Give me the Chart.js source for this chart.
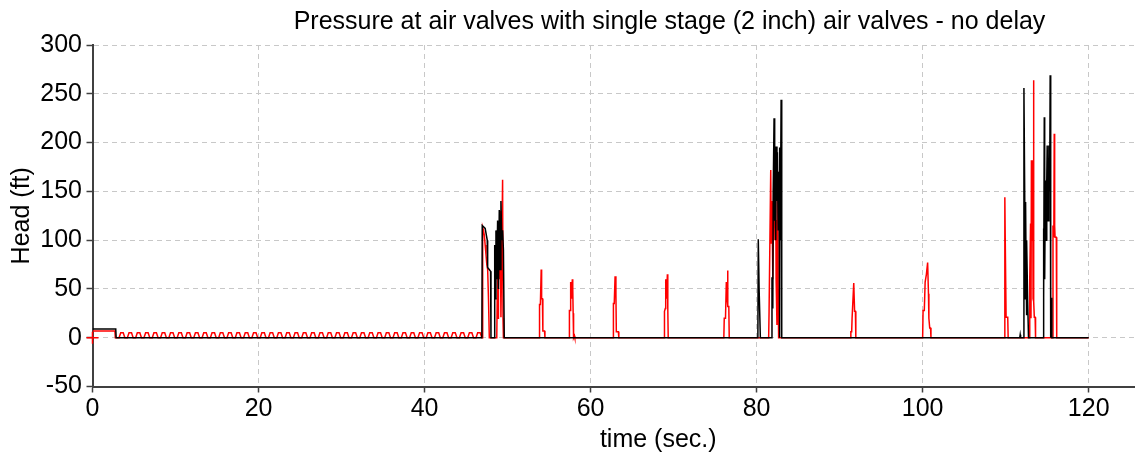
<!DOCTYPE html>
<html><head><meta charset="utf-8">
<script src="https://cdn.jsdelivr.net/npm/chart.js@4.4.1/dist/chart.umd.min.js"></script>
<style>
html,body{margin:0;padding:0;background:#fff;overflow:hidden;}
#wrap{width:1135px;height:459px;overflow:hidden;position:relative;}
#box{position:absolute;left:0;top:0;width:1339px;height:459px;}
</style></head><body>
<div id="wrap"><div id="box"><canvas id="c" width="1339" height="459"></canvas></div></div>
<script>
const chartTitle = 'Pressure at air valves with single stage (2 inch) air valves - no delay';
const xTitle = 'time (sec.)';
const yTitle = 'Head (ft)';
const xTicks = [0, 20, 40, 60, 80, 100, 120];
const yTicks = [-50, 0, 50, 100, 150, 200, 250, 300];
const startMarker = [[0, 0]];

// black series: time (s), head (ft)
const blackPoints = [
  [0,9],[2.8,9],[2.85,0],[46.9,0],[46.95,115],[47.3,112],[47.55,100],[47.6,72],[47.95,68],[48.0,0],
  [48.4,0],[48.45,95],[48.55,40],[48.6,110],[48.7,60],[48.8,120],[48.9,50],[49.0,131],[49.1,70],[49.2,140],[49.3,100],[49.4,110],[49.5,90],[49.6,0],
  [80.15,0],[80.2,101],[80.3,50],[80.4,50],[80.45,0],
  [81.8,0],[81.85,62],[81.95,30],[82.0,150],[82.1,225],[82.15,120],[82.2,183],[82.3,100],[82.35,196],[82.45,140],[82.5,190],[82.6,110],[82.7,170],[82.75,0],[82.8,195],[82.85,100],[82.95,244],[83.0,160],[83.05,0],
  [111.7,0],[111.75,3],[111.8,0],
  [112.15,0],[112.2,256],[112.3,139],[112.35,40],[112.4,139],[112.45,83],[112.5,23],[112.55,100],[112.65,38],[112.75,0],
  [114.5,0],[114.55,112],[114.6,40],[114.65,226],[114.7,60],[114.75,120],[114.85,161],[114.9,100],[114.95,161],[115.0,197],[115.1,120],[115.2,197],[115.3,150],[115.36,269],[115.4,52],[115.45,0],[115.5,41],[115.56,0],
  [120,0]
];

// red series: time (s), head (ft)
const redPoints = [
  [0,7],[2.7,7],[2.75,0],
  [3.2,0],[3.4,5],[3.7,5],[3.9,0],
  [4.2,0],[4.4,5],[4.7,5],[4.9,0],
  [5.2,0],[5.4,5],[5.7,5],[5.9,0],
  [6.2,0],[6.4,5],[6.7,5],[6.9,0],
  [7.2,0],[7.4,5],[7.7,5],[7.9,0],
  [8.2,0],[8.4,5],[8.7,5],[8.9,0],
  [9.2,0],[9.4,5],[9.7,5],[9.9,0],
  [10.2,0],[10.4,5],[10.7,5],[10.9,0],
  [11.2,0],[11.4,5],[11.7,5],[11.9,0],
  [12.2,0],[12.4,5],[12.7,5],[12.9,0],
  [13.2,0],[13.4,5],[13.7,5],[13.9,0],
  [14.2,0],[14.4,5],[14.7,5],[14.9,0],
  [15.2,0],[15.4,5],[15.7,5],[15.9,0],
  [16.2,0],[16.4,5],[16.7,5],[16.9,0],
  [17.2,0],[17.4,5],[17.7,5],[17.9,0],
  [18.2,0],[18.4,5],[18.7,5],[18.9,0],
  [19.2,0],[19.4,5],[19.7,5],[19.9,0],
  [20.2,0],[20.4,5],[20.7,5],[20.9,0],
  [21.2,0],[21.4,5],[21.7,5],[21.9,0],
  [22.2,0],[22.4,5],[22.7,5],[22.9,0],
  [23.2,0],[23.4,5],[23.7,5],[23.9,0],
  [24.2,0],[24.4,5],[24.7,5],[24.9,0],
  [25.2,0],[25.4,5],[25.7,5],[25.9,0],
  [26.2,0],[26.4,5],[26.7,5],[26.9,0],
  [27.2,0],[27.4,5],[27.7,5],[27.9,0],
  [28.2,0],[28.4,5],[28.7,5],[28.9,0],
  [29.2,0],[29.4,5],[29.7,5],[29.9,0],
  [30.2,0],[30.4,5],[30.7,5],[30.9,0],
  [31.2,0],[31.4,5],[31.7,5],[31.9,0],
  [32.2,0],[32.4,5],[32.7,5],[32.9,0],
  [33.2,0],[33.4,5],[33.7,5],[33.9,0],
  [34.2,0],[34.4,5],[34.7,5],[34.9,0],
  [35.2,0],[35.4,5],[35.7,5],[35.9,0],
  [36.2,0],[36.4,5],[36.7,5],[36.9,0],
  [37.2,0],[37.4,5],[37.7,5],[37.9,0],
  [38.2,0],[38.4,5],[38.7,5],[38.9,0],
  [39.2,0],[39.4,5],[39.7,5],[39.9,0],
  [40.2,0],[40.4,5],[40.7,5],[40.9,0],
  [41.2,0],[41.4,5],[41.7,5],[41.9,0],
  [42.2,0],[42.4,5],[42.7,5],[42.9,0],
  [43.2,0],[43.4,5],[43.7,5],[43.9,0],
  [44.2,0],[44.4,5],[44.7,5],[44.9,0],
  [45.2,0],[45.4,5],[45.7,5],[45.9,0],
  [46.2,0],[46.4,5],[46.7,5],[46.9,0],
  [46.95,0],[47.0,113],[47.1,110],[47.2,105],[47.3,95],[47.4,85],[47.5,75],[47.6,70],[47.7,40],[47.8,0],
  [48.7,0],[48.75,40],[48.8,100],[48.85,20],[48.9,112],[49.0,60],[49.1,130],[49.2,21],[49.3,90],[49.4,162],[49.45,20],[49.5,0],
  [53.8,0],[53.85,34],[53.95,34],[54.05,70],[54.1,40],[54.2,40],[54.25,7],[54.45,7],[54.5,0],
  [57.4,0],[57.45,28],[57.55,28],[57.6,57],[57.7,40],[57.8,60],[57.85,51],[57.9,25],[57.95,0],[58.05,2],[58.1,0],
  [62.7,0],[62.75,35],[62.85,35],[62.95,63],[63.05,45],[63.1,6],[63.35,6],[63.4,0],
  [68.85,0],[68.9,27],[69.0,30],[69.05,60],[69.15,40],[69.25,65],[69.3,30],[69.35,0],
  [76.05,0],[76.1,20],[76.25,20],[76.35,57],[76.45,40],[76.5,69],[76.55,32],[76.65,32],[76.7,0],
  [81.45,0],[81.5,27],[81.6,27],[81.7,172],[81.75,97],[81.85,140],[81.95,60],[82.05,150],[82.15,182],[82.2,100],[82.3,163],[82.35,60],[82.45,13],[82.5,120],[82.55,170],[82.6,50],[82.65,0],
  [91.3,0],[91.35,6],[91.45,6],[91.5,20],[91.6,20],[91.7,56],[91.8,27],[91.9,27],[91.95,0],
  [100.0,0],[100.05,28],[100.2,28],[100.3,57],[100.45,65],[100.6,77],[100.7,45],[100.75,20],[100.85,10],[100.95,10],[101.0,0],
  [109.85,0],[109.9,144],[109.95,100],[110.0,100],[110.05,21],[110.25,21],[110.3,0],
  [112.85,0],[112.9,60],[113.0,117],[113.05,20],[113.1,182],[113.2,100],[113.25,182],[113.3,40],[113.35,264],[113.4,37],[113.45,21],[113.55,21],[113.6,0],
  [115.65,0],[115.7,115],[115.8,103],[115.85,209],[115.9,115],[115.95,103],[116.1,103],[116.15,0],[120,0]
];

const toXY = arr => arr.map(p => ({x: p[0], y: p[1]}));
const FONT = "Arial, 'Liberation Sans', sans-serif";

new Chart(document.getElementById('c'), {
  type: 'line',
  data: {
    datasets: [
      {label: 'start', data: toXY(startMarker), showLine: false, pointStyle: 'cross', pointRadius: 6, borderColor: '#ff0000', borderWidth: 1.5, clip: false},
      {label: 'black', data: toXY(blackPoints), borderColor: '#000000', borderWidth: 1.5, pointRadius: 0, tension: 0, fill: false},
      {label: 'red', data: toXY(redPoints), borderColor: '#ff0000', borderWidth: 1.5, pointRadius: 0, tension: 0, fill: false}
    ]
  },
  options: {
    responsive: false,
    animation: false,
    devicePixelRatio: 1,
    layout: {padding: 0},
    plugins: {
      legend: {display: false},
      tooltip: {enabled: false},
      title: {display: true, text: chartTitle, fullSize: true, color: '#000', font: {family: FONT, size: 25, weight: 'normal'}, padding: {top: 7, bottom: 8}}
    },
    scales: {
      x: {
        type: 'linear', min: 0, max: 136.3,
        afterFit: s => { s.height = 72.5; },
        afterBuildTicks: s => { s.ticks = xTicks.map(v => ({value: v})); },
        ticks: {stepSize: 20, includeBounds: false, color: '#000', font: {family: FONT, size: 25}, padding: 2, maxRotation: 0},
        grid: {color: '#c8c8c8', lineWidth: 1, tickLength: 6, tickColor: '#404040', tickWidth: 1.5, tickBorderDash: []},
        border: {color: '#404040', width: 2, dash: [5, 4]},
        title: {display: true, text: xTitle, color: '#000', font: {family: FONT, size: 25}, padding: {top: 0, bottom: 4}}
      },
      y: {
        min: -50, max: 300,
        afterFit: s => { s.width = 92.5; },
        afterBuildTicks: s => { s.ticks = yTicks.map(v => ({value: v})); },
        ticks: {stepSize: 50, color: '#000', font: {family: FONT, size: 25}, padding: 4.5},
        grid: {color: '#c8c8c8', lineWidth: 1, tickLength: 6, tickColor: '#404040', tickWidth: 1.5, tickBorderDash: []},
        border: {color: '#404040', width: 2, dash: [5, 4]},
        title: {display: true, text: yTitle, color: '#000', font: {family: FONT, size: 25}, padding: {top: 7, bottom: 0}}
      },
      yr: {
        position: 'right', display: true,
        afterFit: s => { s.width = 115; },
        ticks: {display: false},
        grid: {display: false, drawTicks: false},
        border: {display: false},
        title: {display: false}
      }
    }
  }
});
</script>
</body></html>
